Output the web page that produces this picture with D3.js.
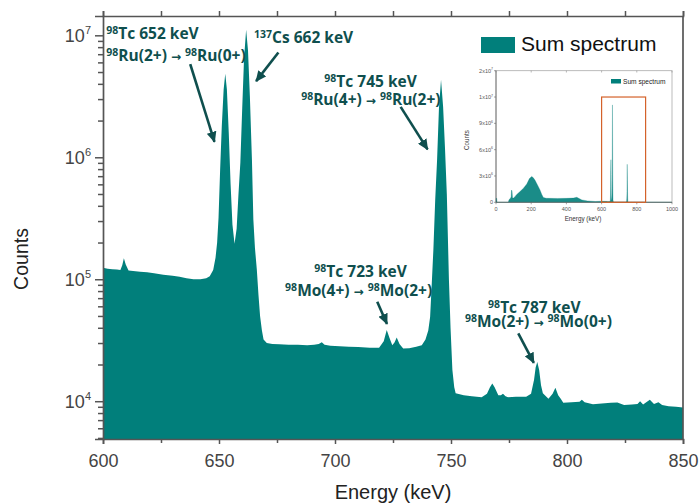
<!DOCTYPE html>
<html lang="en">
<head>
<meta charset="UTF-8" />
<title>Sum spectrum</title>
<style>
  body { margin: 0; background: #fff; }
  svg { display: block; font-family: "Liberation Sans", Arial, sans-serif; }
  .note { font-family: "Open Sans", sans-serif; font-weight: 700; fill: #0f4f4e; }
  .note .arr { font-family: "DejaVu Sans", sans-serif; }
</style>
</head>
<body>
<svg id="chart" width="699" height="504"></svg>
<script src="https://d3js.org/d3.v7.min.js"></script>
<script>
// spectrum 600-850 keV
const spectrumEnergy = [600, 602, 604, 606, 607.5, 608.3, 609, 609.8, 611, 613, 616, 619, 622, 626, 630, 633, 636, 639, 642, 644.5,
  646, 647.5, 648.5, 649.2, 649.8, 650.5, 651.2, 652, 652.7, 653.4, 654.2, 655, 655.8, 656.7, 657.6, 658.4, 659.2, 660, 660.8, 661.7,
  662.5, 663.3, 664.2, 664.8, 665.5, 666.3, 667, 667.7, 668.5, 669.2, 670.6, 673, 676, 680, 684, 688, 691, 693, 694.3, 695.5,
  698, 702, 706, 710, 715, 719, 721, 722.3, 723.5, 724.7, 725.7, 726.6, 727.8, 729.4, 732, 735, 737.4, 739, 740.2, 741,
  741.8, 742.4, 743.2, 744, 744.8, 745.7, 746.6, 747.4, 748.2, 749.1, 749.8, 750.6, 751.4, 752, 755.5, 759, 763.2, 765.5, 766.8, 767.8,
  768.8, 770.4, 771.5, 772.4, 773.5, 774.6, 778, 782.4, 784.5, 785.8, 786.5, 787.2, 788, 788.8, 789.6, 792, 793.8, 795, 796.2, 797.3,
  798.4, 802, 805.4, 806.4, 807.6, 811.2, 815, 818.9, 821.7, 824.6, 828, 830.4, 831.5, 832.8, 835.7, 837.5, 839.4, 841, 843.8, 847, 850];
const spectrumCounts = [1.24e5, 1.22e5, 1.21e5, 1.2e5, 1.19e5, 1.3e5, 1.49e5, 1.32e5, 1.18e5, 1.17e5, 1.15e5, 1.14e5, 1.12e5, 1.09e5, 1.07e5, 1.05e5, 1.02e5, 1.0e5, 1.0e5, 1.02e5,
  1.06e5, 1.19e5, 1.5e5, 2.0e5, 3.2e5, 8e5, 1.8e6, 3.6e6, 4.85e6, 3.6e6, 1.6e6, 6e5, 2.8e5, 1.95e5, 2.6e5, 5e5, 9e5, 2.5e6, 6.5e6, 1.11e7,
  7.5e6, 3.2e6, 9.5e5, 3.1e5, 1.8e5, 1.2e5, 7.5e4, 5e4, 3.8e4, 3.2e4, 3.0e4, 2.95e4, 2.93e4, 2.9e4, 2.9e4, 2.88e4, 2.9e4, 2.95e4, 3.05e4, 2.9e4,
  2.85e4, 2.82e4, 2.8e4, 2.78e4, 2.74e4, 2.75e4, 3.1e4, 3.84e4, 3.3e4, 2.87e4, 3.05e4, 3.33e4, 2.95e4, 2.7e4, 2.72e4, 2.8e4, 2.87e4, 3.2e4, 3.8e4, 4.9e4,
  1.0e5, 1.74e5, 4.5e5, 9.5e5, 2.5e6, 4.33e6, 2.6e6, 1.2e6, 5e5, 1.0e5, 4e4, 1.8e4, 1.3e4, 1.16e4, 1.12e4, 1.1e4, 1.08e4, 1.15e4, 1.3e4, 1.4e4,
  1.3e4, 1.12e4, 1.12e4, 1.15e4, 1.1e4, 1.08e4, 1.09e4, 1.09e4, 1.15e4, 1.5e4, 1.9e4, 2.1e4, 1.8e4, 1.35e4, 1.16e4, 1.05e4, 1.15e4, 1.29e4, 1.12e4, 1.05e4,
  9.7e3, 9.8e3, 9.9e3, 1.03e4, 9.8e3, 9.46e3, 9.6e3, 9.7e3, 9.75e3, 9.3e3, 9.4e3, 9.5e3, 1.0e4, 9.4e3, 1.03e4, 9.5e3, 9.8e3, 9.3e3, 9.1e3, 9.0e3, 8.9e3];

// inset: the part of the full spectrum below 600 keV and above 850 keV (linear counts)
const lowEnergy = [0, 4, 6, 70, 74, 80, 86, 88, 91, 94, 100, 110, 118, 135, 156, 175, 190, 203, 212, 222,
  235, 250, 260, 269, 285, 300, 350, 400, 440, 459, 475, 488, 520, 564];
const lowCounts = [4.5e5, 4.5e5, 0, 0, 3e5, 4e5, 6e5, 1.4e6, 1.3e6, 5e5, 5e5, 7e5, 9e5, 1.2e6, 1.6e6, 2.1e6, 2.7e6, 2.95e6, 2.8e6, 2.5e6,
  2.0e6, 1.4e6, 9e5, 5.5e5, 4.6e5, 4.5e5, 4.4e5, 4.5e5, 4.8e5, 5.7e5, 4e5, 2.7e5, 1.6e5, 9e4];
const tailEnergy = [870, 920, 1000];
const tailCounts = [8e3, 6e3, 4e3];

const xMajor = [600, 650, 700, 750, 800, 850];
const xMinor = [625, 675, 725, 775, 825];
const yDecades = [4, 5, 6, 7];
const insetXTicks = [0, 200, 400, 600, 800, 1000];
const insetYTicks = [0, 3e6, 6e6, 9e6, 1.2e7, 1.5e7];
const insetYLabels = [["0", ""], ["3x10", "6"], ["6x10", "6"], ["9x10", "6"], ["1x10", "7"], ["2x10", "7"]];
const zoomBox = [600, 850, 0, 1.2e7];

// peak labels: "^98" is a superscript
const noteText = [
  ["^98Tc 652 keV", "^98Ru(2+) → ^98Ru(0+)"],
  ["^137Cs 662 keV"],
  ["^98Tc 745 keV", "^98Ru(4+) → ^98Ru(2+)"],
  ["^98Tc 723 keV", "^98Mo(4+) → ^98Mo(2+)"],
  ["^98Tc 787 keV", "^98Mo(2+) → ^98Mo(0+)"]
];
// where each text line starts, in [keV, counts]
const noteAt = [
  [[601.4, 9.26e6], [601.4, 6.18e6]],
  [[665.1, 8.59e6]],
  [[695.4, 3.74e6], [685.4, 2.68e6]],
  [[691.1, 1.04e5], [678.5, 7.28e4]],
  [[766.0, 5.25e4], [756.0, 4.04e4]]
];
const noteArrow = [
  [[637.6, 5.81e6], [648.05, 1.34e6]],
  [[675.6, 7.24e6], [666.0, 4.21e6]],
  [[728.3, 2.59e6], [739.9, 1.16e6]],
  [[718.2, 6.55e4], [722.4, 4.3e4]],
  [[779.0, 3.6e4], [785.7, 2.06e4]]
];

const teal = "#017f7b";
const axisCol = "#555";
const m = { left: 103, right: 683, top: 16, bottom: 439 };
const svg = d3.select("#chart");

const x = d3.scaleLinear().domain([600, 850]).range([m.left, m.right]);
const y = d3.scaleLog().domain([4900, 1.44e7]).range([m.bottom, m.top]);

const spectrum = spectrumEnergy.map((e, i) => [e, spectrumCounts[i]]);

svg.append("path")
  .datum(spectrum)
  .attr("fill", teal)
  .attr("d", d3.area().x(d => x(d[0])).y0(m.bottom).y1(d => y(d[1])));

// axes
function styleAxis(g) {
  g.attr("font-family", null).attr("font-size", null);
  g.selectAll("line").attr("stroke", axisCol).attr("stroke-width", 1.5);
  g.select(".domain").attr("stroke", axisCol).attr("stroke-width", 1.7);
}
svg.append("g").attr("transform", `translate(0,${m.bottom})`)
  .call(d3.axisBottom(x).tickValues(xMajor).tickSize(5).tickPadding(10).tickFormat(d3.format("d")))
  .call(styleAxis)
  .selectAll("text").attr("font-size", 18).attr("fill", "#444");
svg.append("g").attr("transform", `translate(0,${m.bottom})`)
  .call(d3.axisBottom(x).tickValues(xMinor).tickSize(4).tickFormat(""))
  .call(styleAxis).call(g => g.select(".domain").remove());
svg.append("g").attr("transform", `translate(0,${m.top})`)
  .call(d3.axisTop(x).tickValues(xMajor.concat(xMinor)).tickSize(5).tickFormat(""))
  .call(styleAxis);

const yMinor = [];
yDecades.forEach(p => d3.range(2, 10).forEach(k => {
  const v = k * Math.pow(10, p - 1);
  if (v >= y.domain()[0]) yMinor.push(v);
}));
d3.range(2, 10).forEach(k => { if (k * 1e7 <= y.domain()[1]) yMinor.push(k * 1e7); });

svg.append("g").attr("transform", `translate(${m.left},0)`)
  .call(d3.axisLeft(y).tickValues(yDecades.map(p => Math.pow(10, p))).tickSize(8).tickFormat(""))
  .call(styleAxis);
svg.append("g").attr("transform", `translate(${m.left},0)`)
  .call(d3.axisLeft(y).tickValues(yMinor).tickSize(5).tickFormat(""))
  .call(styleAxis).call(g => g.select(".domain").remove());
svg.append("line")
  .attr("x1", m.right).attr("x2", m.right).attr("y1", m.top).attr("y2", m.bottom)
  .attr("stroke", axisCol).attr("stroke-width", 1.7);

const yLab = svg.append("g").selectAll("text").data(yDecades).join("text")
  .attr("x", m.left - 12)
  .attr("y", p => y(Math.pow(10, p)) + 7)
  .attr("text-anchor", "end")
  .attr("fill", "#444")
  .attr("font-size", 18);
yLab.append("tspan").text("10");
yLab.append("tspan").attr("font-size", 11).attr("dy", -8).text(p => p);

svg.append("text")
  .attr("transform", `translate(28,259) rotate(-90)`)
  .attr("text-anchor", "middle").attr("font-size", 19.5).attr("fill", "#222")
  .text("Counts");
svg.append("text")
  .attr("x", 393).attr("y", 499)
  .attr("text-anchor", "middle").attr("font-size", 20).attr("fill", "#222")
  .text("Energy (keV)");

// legend
svg.append("rect").attr("x", 481).attr("y", 37).attr("width", 34).attr("height", 16).attr("fill", teal);
svg.append("text").attr("x", 521).attr("y", 51).attr("font-size", 21).attr("fill", "#111").text("Sum spectrum");

// peak notes
svg.append("defs").append("marker")
  .attr("id", "head").attr("markerUnits", "userSpaceOnUse")
  .attr("markerWidth", 12).attr("markerHeight", 10)
  .attr("refX", 10).attr("refY", 5).attr("orient", "auto")
  .append("path").attr("d", "M0,0L11,5L0,10Z").attr("fill", "#0f4f4e");

noteArrow.forEach(a => {
  svg.append("line")
    .attr("x1", x(a[0][0])).attr("y1", y(a[0][1]))
    .attr("x2", x(a[1][0])).attr("y2", y(a[1][1]))
    .attr("stroke", "#0f4f4e").attr("stroke-width", 2.6)
    .attr("marker-end", "url(#head)");
});

noteText.forEach((lines, i) => {
  lines.forEach((line, j) => {
    const t = svg.append("text").attr("class", "note")
      .attr("x", x(noteAt[i][j][0])).attr("y", y(noteAt[i][j][1]))
      .attr("font-size", 15.5);
    let raised = false;
    line.match(/\^\d+|→|[^^→]+/g).forEach(part => {
      if (part[0] === "^") {
        t.append("tspan").attr("font-size", 10.5).attr("dy", raised ? 0 : -5).text(part.slice(1));
        raised = true;
      } else {
        const s = t.append("tspan").attr("dy", raised ? 5 : 0).text(part);
        if (part === "→") s.attr("class", "arr").attr("font-size", 12);
        raised = false;
      }
    });
  });
});

// inset: full spectrum on a linear scale
const inset = svg.append("g");
const ix = d3.scaleLinear().domain([0, 1000]).range([496, 672]);
const iy = d3.scaleLinear().domain([0, 1.5e7]).range([202.3, 70.7]);
const full = lowEnergy.map((e, i) => [e, lowCounts[i]])
  .concat(spectrum)
  .concat(tailEnergy.map((e, i) => [e, tailCounts[i]]));

inset.append("rect").attr("x", 496).attr("y", 70.7).attr("width", 176).attr("height", 131.6)
  .attr("fill", "#fff").attr("stroke", "#aaa").attr("stroke-width", 0.8);
inset.append("path").datum(full)
  .attr("fill", teal).attr("fill-opacity", 0.9).attr("stroke", teal).attr("stroke-opacity", 0.4).attr("stroke-width", 0.7)
  .attr("d", d3.area().x(d => ix(d[0])).y0(iy(0)).y1(d => iy(d[1])));

inset.append("line").attr("x1", 496).attr("x2", 496).attr("y1", 70.7).attr("y2", 202.3).attr("stroke", "#666").attr("stroke-width", 0.8);
inset.append("line").attr("x1", 496).attr("x2", 672).attr("y1", 202.3).attr("y2", 202.3).attr("stroke", "#666").attr("stroke-width", 0.8);

inset.selectAll(".xt").data(insetXTicks).join("line")
  .attr("x1", d => ix(d)).attr("x2", d => ix(d)).attr("y1", 202.3).attr("y2", 204.3)
  .attr("stroke", "#666").attr("stroke-width", 0.6);
inset.selectAll(".xtt").data(insetXTicks).join("line")
  .attr("x1", d => ix(d)).attr("x2", d => ix(d)).attr("y1", 70.7).attr("y2", 72.5)
  .attr("stroke", "#888").attr("stroke-width", 0.6);
inset.selectAll(".yt").data(insetYTicks).join("line")
  .attr("x1", 494).attr("x2", 496).attr("y1", d => iy(d)).attr("y2", d => iy(d))
  .attr("stroke", "#666").attr("stroke-width", 0.6);
inset.selectAll(".xl").data(insetXTicks).join("text")
  .attr("x", d => ix(d)).attr("y", 211).attr("text-anchor", "middle")
  .attr("font-size", 5.5).attr("fill", "#555").text(d => d);
const iyl = inset.selectAll(".yl").data(insetYTicks).join("text")
  .attr("x", 493).attr("y", d => iy(d) + 2).attr("text-anchor", "end")
  .attr("font-size", 5.5).attr("fill", "#555");
iyl.append("tspan").text((d, i) => insetYLabels[i][0]);
iyl.append("tspan").attr("font-size", 3.5).attr("dy", -2.5).text((d, i) => insetYLabels[i][1]);

inset.append("text").attr("x", 583).attr("y", 221).attr("text-anchor", "middle")
  .attr("font-size", 6.3).attr("fill", "#333").text("Energy (keV)");
inset.append("text").attr("transform", "translate(469,140) rotate(-90)").attr("text-anchor", "middle")
  .attr("font-size", 6.3).attr("fill", "#333").text("Counts");

inset.append("rect").attr("x", 611).attr("y", 79).attr("width", 10).attr("height", 4.5).attr("fill", teal);
inset.append("text").attr("x", 623).attr("y", 83.6).attr("font-size", 6.6).attr("fill", "#222").text("Sum spectrum");

inset.append("rect")
  .attr("x", ix(zoomBox[0])).attr("y", iy(zoomBox[3]))
  .attr("width", ix(zoomBox[1]) - ix(zoomBox[0])).attr("height", iy(zoomBox[2]) - iy(zoomBox[3]))
  .attr("fill", "none").attr("stroke", "#d4622a").attr("stroke-width", 1.2);
</script>
</body>
</html>
